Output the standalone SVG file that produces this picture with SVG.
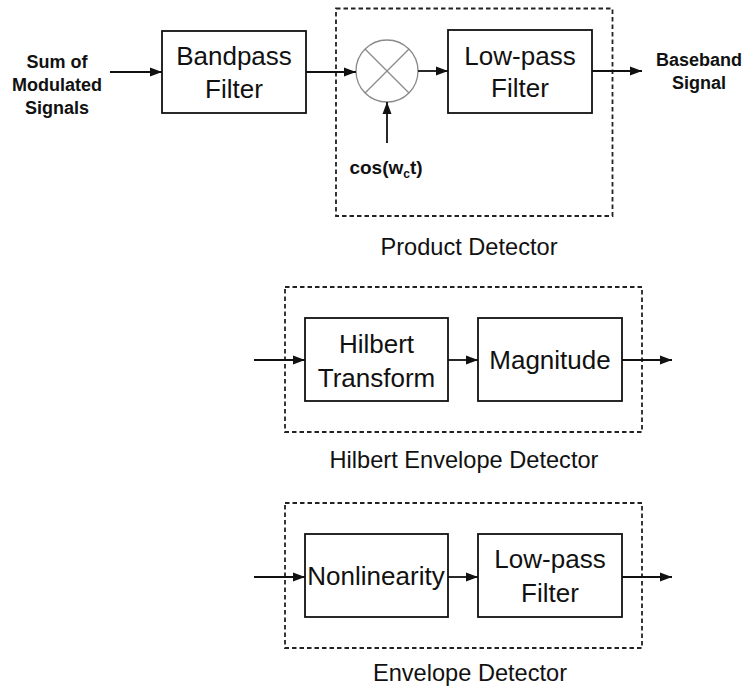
<svg xmlns="http://www.w3.org/2000/svg" width="747" height="691" viewBox="0 0 747 691">
<defs>
<marker id="arr" markerUnits="userSpaceOnUse" markerWidth="12" markerHeight="10" refX="12" refY="5" orient="auto">
<path d="M0,0.5 L12,5 L0,9.5 Z" fill="#111"/>
</marker>
<style>
.box{fill:#fff;stroke:#111;stroke-width:1.8}
.dash{fill:none;stroke:#222;stroke-width:1.8;stroke-dasharray:4.5 3}
.t{font-family:"Liberation Sans",Arial,sans-serif;font-size:26px;fill:#111;text-anchor:middle}
.lbl{font-family:"Liberation Sans",Arial,sans-serif;font-size:23.6px;fill:#111;text-anchor:middle}
.b{font-family:"Liberation Sans",Arial,sans-serif;font-size:18px;font-weight:bold;fill:#111;text-anchor:middle}
.c{fill:none;stroke:#111;stroke-width:1.8;marker-end:url(#arr)}
.g{fill:none;stroke:#8a8a8a;stroke-width:1.3}
</style>
</defs>
<rect width="747" height="691" fill="#fff"/>
<g id="product-detector">
<rect class="dash" x="336" y="8.5" width="276.5" height="207.5"/>
<text class="lbl" x="469" y="255">Product Detector</text>
</g>
<g id="hilbert-envelope-detector">
<rect class="dash" x="285" y="287" width="357" height="145"/>
<text class="lbl" x="464" y="468">Hilbert Envelope Detector</text>
</g>
<g id="envelope-detector">
<rect class="dash" x="285" y="503" width="357" height="145"/>
<text class="lbl" x="470" y="681">Envelope Detector</text>
</g>
<g id="input-label">
<text class="b" x="57" y="68">Sum of</text>
<text class="b" x="57" y="91">Modulated</text>
<text class="b" x="57" y="114">Signals</text>
</g>
<g id="bandpass">
<rect class="box" x="162" y="31" width="144" height="82"/>
<text class="t" x="234" y="65">Bandpass</text>
<text class="t" x="234" y="98">Filter</text>
</g>
<g id="mixer">
<circle cx="387" cy="71" r="31" fill="#fff" stroke="#8a8a8a" stroke-width="1.3"/>
<line class="g" x1="365" y1="49" x2="409" y2="93"/>
<line class="g" x1="409" y1="49" x2="365" y2="93"/>
</g>
<g id="cos-label">
<text class="b" x="386" y="174" style="font-size:19px">cos(w<tspan style="font-size:12px" dy="4">c</tspan><tspan dy="-4">t)</tspan></text>
</g>
<g id="lowpass-top">
<rect class="box" x="448" y="30" width="144" height="83"/>
<text class="t" x="520" y="65">Low-pass</text>
<text class="t" x="520" y="97">Filter</text>
</g>
<g id="output-label">
<text class="b" x="699" y="66">Baseband</text>
<text class="b" x="699" y="89">Signal</text>
</g>
<g id="hilbert">
<rect class="box" x="305" y="318" width="143" height="83"/>
<text class="t" x="376.5" y="353">Hilbert</text>
<text class="t" x="376.5" y="387">Transform</text>
</g>
<g id="magnitude">
<rect class="box" x="478" y="318" width="144" height="83"/>
<text class="t" x="550" y="369">Magnitude</text>
</g>
<g id="nonlinearity">
<rect class="box" x="305" y="534" width="143" height="83"/>
<text class="t" x="376" y="585">Nonlinearity</text>
</g>
<g id="lowpass-bottom">
<rect class="box" x="478" y="534" width="144" height="83"/>
<text class="t" x="550" y="568">Low-pass</text>
<text class="t" x="550" y="602">Filter</text>
</g>
<g id="connectors">
<line class="c" x1="110" y1="72" x2="162" y2="72"/>
<line class="c" x1="306" y1="72" x2="356" y2="72"/>
<line class="c" x1="418" y1="71" x2="448" y2="71"/>
<line class="c" x1="592" y1="71" x2="642" y2="71"/>
<line class="c" x1="387" y1="143" x2="387" y2="102"/>
<line class="c" x1="254" y1="360" x2="305" y2="360"/>
<line class="c" x1="448" y1="360" x2="478" y2="360"/>
<line class="c" x1="622" y1="360" x2="672" y2="360"/>
<line class="c" x1="254" y1="577" x2="305" y2="577"/>
<line class="c" x1="448" y1="577" x2="478" y2="577"/>
<line class="c" x1="622" y1="577" x2="672" y2="577"/>
</g>
</svg>
